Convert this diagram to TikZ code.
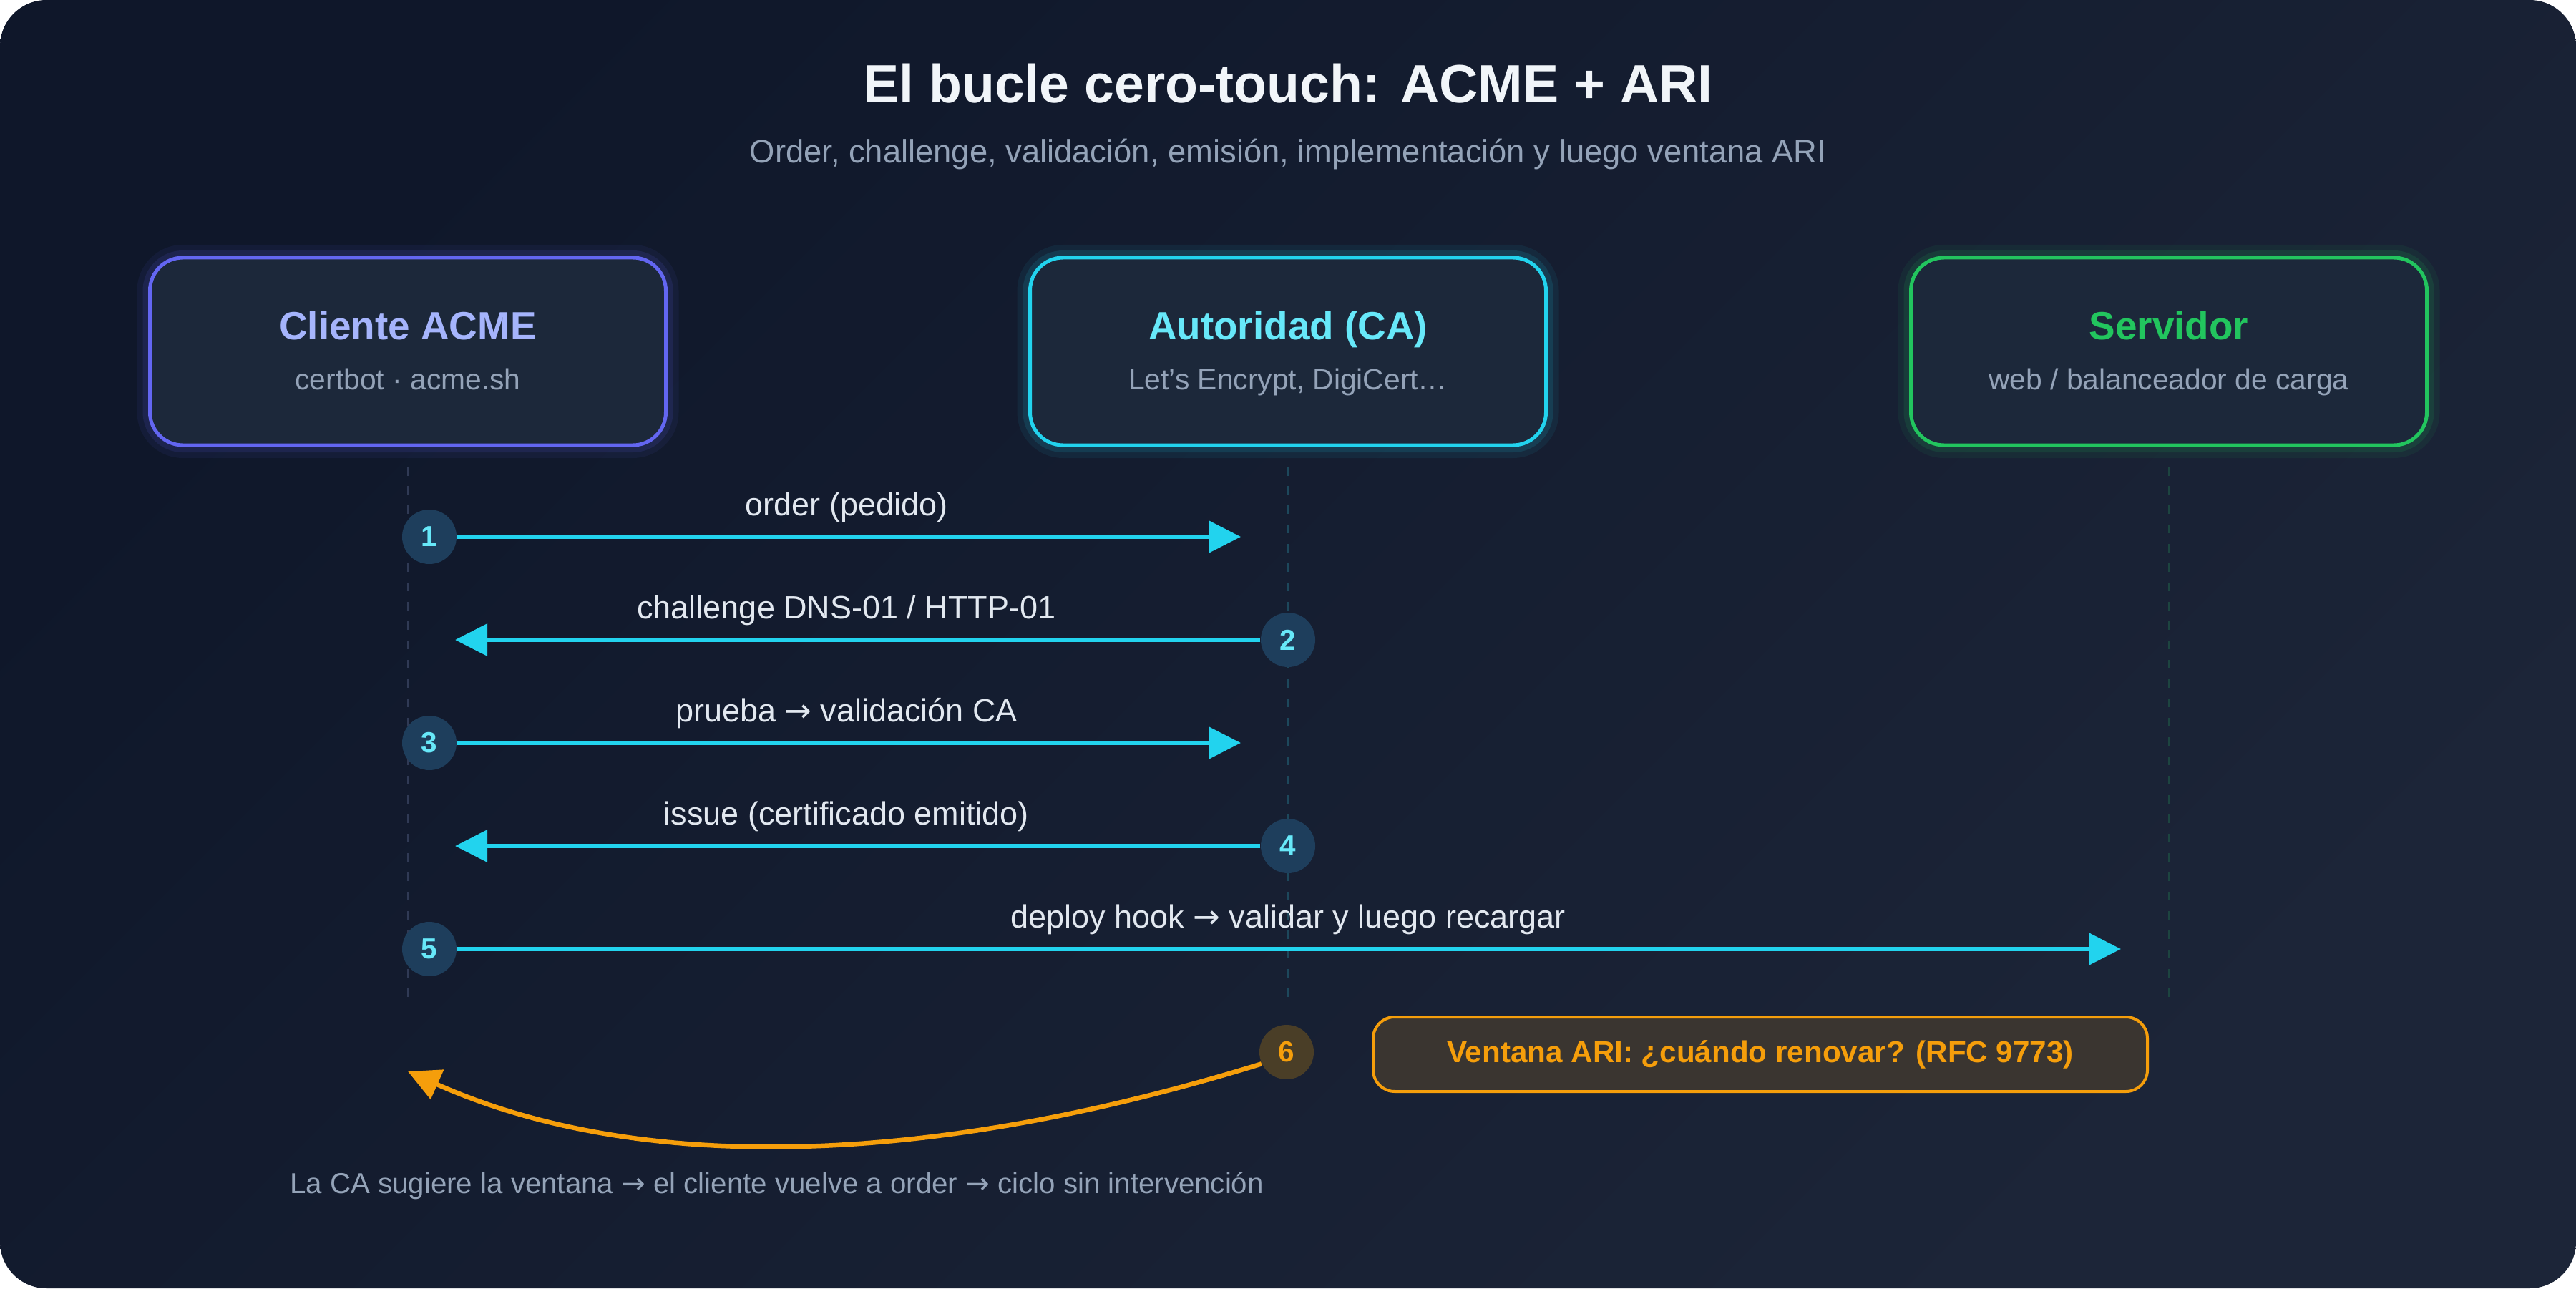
\documentclass[tikz,border=0pt]{standalone}
\usepackage{fontspec}
\setmainfont{Liberation Sans}
\newfontfamily\symfont{DejaVu Sans}
\newcommand{\toarrow}{{\symfont →}}
\usetikzlibrary{arrows.meta}

\definecolor{bgtop}{HTML}{0F172A}
\definecolor{bgbot}{HTML}{1C2538}
\definecolor{panel}{HTML}{1C283A}
\definecolor{clicol}{HTML}{6366F1}
\definecolor{clilt}{HTML}{A5B4FC}
\definecolor{cacol}{HTML}{22D3EE}
\definecolor{calt}{HTML}{67E8F9}
\definecolor{srvcol}{HTML}{22C55E}
\definecolor{muted}{HTML}{94A3B8}
\definecolor{txt}{HTML}{E2E8F0}
\definecolor{headtxt}{HTML}{F1F5F9}
\definecolor{stepfill}{HTML}{1E3E5C}
\definecolor{amber}{HTML}{F59E0B}
\definecolor{amberfill}{HTML}{4A3E27}
\definecolor{notefill}{HTML}{3A3530}
\definecolor{lifecli}{HTML}{303A55}
\definecolor{lifeca}{HTML}{1D485C}
\definecolor{lifesrv}{HTML}{1D4540}

\begin{document}
\begin{tikzpicture}[font=\fontsize{12.8}{15}\selectfont, >={Triangle[length=0.45cm, width=0.44cm]},
    actor/.style={draw=#1, line width=0.05cm, rounded corners=0.46cm, fill=panel, align=center,
      minimum width=7.21cm, minimum height=2.62cm, inner sep=0pt, font=\fontsize{11.6}{14}\selectfont,
      preaction={draw=#1, draw opacity=0.07, line width=0.36cm},
      preaction={draw=#1, draw opacity=0.12, line width=0.2cm}},
    num/.style={circle, fill=stepfill, minimum size=0.76cm, inner sep=0pt, text=calt,
      font=\fontsize{11.5}{12}\selectfont\bfseries},
    msg/.style={->, draw=cacol, line width=0.065cm},
    lbl/.style={anchor=base, text=txt},
    life/.style={draw=#1, line width=0.02cm, dash pattern=on 0.12cm off 0.15cm, shorten <=0.28cm},
    note/.style={draw=amber, line width=0.04cm, fill=notefill, rounded corners=0.3cm,
      minimum width=10.82cm, minimum height=1.04cm, text=amber, font=\fontsize{12}{14}\selectfont\bfseries}]
  \useasboundingbox (0,0) rectangle (36,18);
  \fill[white] (0,0) rectangle (36,18);
  \shade[rounded corners=0.65cm, top color=bgtop, bottom color=bgbot, shading angle=45] (0,0) rectangle (36,18);

  \node[anchor=base, text=headtxt, font=\fontsize{21.4}{25}\selectfont\bfseries] (title) at (18,16.56)
    {El bucle cero-touch: ACME + ARI};
  \node[anchor=base, text=muted, font=\fontsize{12.9}{15}\selectfont] (sub) at (18,15.72)
    {Order, challenge, validación, emisión, implementación y luego ventana ARI};

  % participants
  \node[actor=clicol] (cli) at (5.70,13.09)
    {\rule{0pt}{13.5pt}{\fontsize{15.6}{18}\selectfont\bfseries\color{clilt}Cliente ACME}\\[6.1pt]{\color{muted}certbot · acme.sh}\rule[-3pt]{0pt}{3pt}};
  \node[actor=cacol] (ca) at (18.0,13.09)
    {\rule{0pt}{13.5pt}{\fontsize{15.6}{18}\selectfont\bfseries\color{calt}Autoridad (CA)}\\[6.1pt]{\color{muted}Let's Encrypt, DigiCert…}\rule[-3pt]{0pt}{3pt}};
  \node[actor=srvcol] (srv) at (30.31,13.09)
    {\rule{0pt}{13.5pt}{\fontsize{15.6}{18}\selectfont\bfseries\color{srvcol}Servidor}\\[6.1pt]{\color{muted}web / balanceador de carga}\rule[-3pt]{0pt}{3pt}};

  \coordinate (cliend) at (5.70,4.0);
  \coordinate (caend) at (18.0,4.0);
  \coordinate (srvend) at (30.31,4.0);
  \draw[life=lifecli] (cli.south) -- (cliend);
  \draw[life=lifeca] (ca.south) -- (caend);
  \draw[life=lifesrv] (srv.south) -- (srvend);

  % messages
  \node[num] (s1) at (6.0,10.50) {1};
  \node[num] (s2) at (18.0,9.06) {2};
  \node[num] (s3) at (6.0,7.62) {3};
  \node[num] (s4) at (18.0,6.18) {4};
  \node[num] (s5) at (6.0,4.74) {5};
  \coordinate (e1) at (17.34,10.50);
  \coordinate (e2) at (6.36,9.06);
  \coordinate (e3) at (17.34,7.62);
  \coordinate (e4) at (6.36,6.18);
  \coordinate (e5) at (29.64,4.74);
  \draw[msg] (s1) -- (e1);
  \draw[msg] (s2) -- (e2);
  \draw[msg] (s3) -- (e3);
  \draw[msg] (s4) -- (e4);
  \draw[msg] (s5) -- (e5);
  \node[lbl] (l1) at (11.83,10.80) {order (pedido)};
  \node[lbl] (l2) at (11.83,9.36) {challenge DNS-01 / HTTP-01};
  \node[lbl] (l3) at (11.83,7.92) {prueba \toarrow{} validación CA};
  \node[lbl] (l4) at (11.83,6.48) {issue (certificado emitido)};
  \node[lbl] (l5) at (18.0,5.04) {deploy hook \toarrow{} validar y luego recargar};

  % ARI renewal window
  \node[num, fill=amberfill, text=amber] (s6) at (17.98,3.30) {6};
  \node[note] (ari) at (24.60,3.27) {Ventana ARI: ¿cuándo renovar? (RFC 9773)};
  \coordinate (back) at (5.70,3.03);
  \draw[->, draw=amber, line width=0.065cm] (s6.205) .. controls (12.85,1.66) and (8.87,1.62) .. (back);
  \node[anchor=base west, text=muted, font=\fontsize{11.45}{14}\selectfont] (foot) at (3.93,1.33)
    {La CA sugiere la ventana \toarrow{} el cliente vuelve a order \toarrow{} ciclo sin intervención};
\end{tikzpicture}
\end{document}
